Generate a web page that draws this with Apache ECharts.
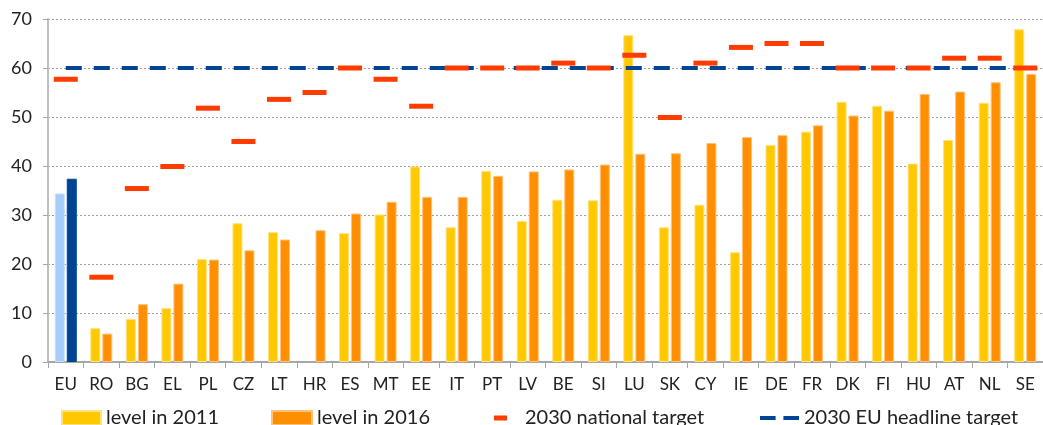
<!DOCTYPE html>
<html>
<head>
<meta charset="utf-8">
<script src="https://cdn.jsdelivr.net/npm/echarts@6/dist/echarts.min.js"></script>
<style>
  html, body { margin: 0; padding: 0; background: #fff; }
  #chart { width: 1043px; height: 425px; }
</style>
</head>
<body>
<div id="chart"></div>
<script>
  // countries, sorted by 2016 level (EU first)
  var categories = ['EU', 'RO', 'BG', 'EL', 'PL', 'CZ', 'LT', 'HR', 'ES', 'MT', 'EE', 'IT', 'PT', 'LV',
    'BE', 'SI', 'LU', 'SK', 'CY', 'IE', 'DE', 'FR', 'DK', 'FI', 'HU', 'AT', 'NL', 'SE']
  var level2011 = [34.4, 6.9, 8.8, 11.0, 21.0, 28.3, 26.5, null, 26.3, 30.1, 39.9, 27.5, 39.0, 28.8,
    33.1, 33.0, 66.7, 27.5, 32.1, 22.4, 44.3, 47.0, 53.1, 52.3, 40.5, 45.3, 52.9, 67.9]
  var level2016 = [37.4, 5.8, 11.8, 16.0, 20.9, 22.8, 25.0, 26.9, 30.3, 32.7, 33.7, 33.7, 38.0, 38.9,
    39.3, 40.3, 42.5, 42.6, 44.7, 45.9, 46.3, 48.3, 50.3, 51.3, 54.7, 55.2, 57.1, 58.8]
  var nationalTarget = [57.7, 17.3, 35.4, 39.9, 51.8, 45.0, 53.6, 55.0, 60, 57.7, 52.2, 60, 60, 60,
    61, 60, 62.6, 49.9, 61, 64.2, 65, 65, 60, 60, 60, 62, 62, 60]
  var euHeadline = 60
  var yTicks = [0, 10, 20, 30, 40, 50, 60, 70]

  var font = 'Lato'

  var data2011 = level2011.map(function (v, i) {
    if (v === null) return '-'
    if (i === 0) return { value: v, itemStyle: { color: '#a6cdfa', borderColor: '#c6e0fc' } }
    return v
  })
  var data2016 = level2016.map(function (v, i) {
    if (i === 0) return { value: v, itemStyle: { color: '#004494', borderColor: '#004494' } }
    return v
  })
  var headlineData = categories.map(function () { return euHeadline })

  var chart = echarts.init(document.getElementById('chart'))

  function legendAt (left, name, icon, w, h, gap) {
    return {
      left: left,
      top: 408,
      padding: 0,
      data: [{ name: name, icon: icon }],
      itemWidth: w,
      itemHeight: h,
      itemGap: 0,
      textStyle: { fontFamily: font, fontSize: 20, color: '#222', padding: [0, 0, 0, gap] },
      selectedMode: false
    }
  }

  chart.setOption({
    animation: false,
    backgroundColor: '#fff',
    grid: { left: 48, top: 19, right: -13, bottom: 63 },
    legend: [
      legendAt(61, 'level in 2011', 'rect', 39, 14, 0),
      legendAt(271, 'level in 2016', 'rect', 40, 14, 0),
      legendAt(494, '2030 national target', 'rect', 13, 5, 13),
      legendAt(760, '2030 EU headline target', 'path://M0,0H16V4H0Z M24,0H40V4H24Z', 39, 4, 0)
    ],
    xAxis: {
      type: 'category',
      data: categories,
      boundaryGap: true,
      axisLine: { lineStyle: { color: '#a6a6a6', width: 2 } },
      axisTick: { show: true, length: 6, lineStyle: { color: '#a6a6a6', width: 1 } },
      axisLabel: { fontFamily: font, fontSize: 17, color: '#222', margin: 14 }
    },
    yAxis: {
      type: 'value',
      min: yTicks[0],
      max: yTicks[yTicks.length - 1],
      interval: 10,
      axisLine: { show: true, lineStyle: { color: '#bfbfbf', width: 2 } },
      axisTick: { show: true, length: 5, lineStyle: { color: '#a6a6a6' } },
      axisLabel: { fontFamily: font, fontSize: 18, color: '#222', margin: 16 },
      splitLine: { lineStyle: { color: '#a0a0a0', type: [2, 2], width: 1 } }
    },
    series: [
      {
        name: 'level in 2011',
        type: 'bar',
        data: data2011,
        barWidth: 10,
        barGap: '20%',
        itemStyle: { color: '#ffc800', borderColor: '#ffe27a', borderWidth: 1 },
        z: 2
      },
      {
        name: 'level in 2016',
        type: 'bar',
        data: data2016,
        barWidth: 10,
        itemStyle: { color: '#ff8f00', borderColor: '#ffc27a', borderWidth: 1 },
        z: 2
      },
      {
        name: '2030 EU headline target',
        type: 'line',
        data: headlineData,
        symbol: 'none',
        itemStyle: { color: '#004494' },
        lineStyle: { color: '#004494', width: 4, type: [16, 12] },
        z: 3
      },
      {
        name: '2030 national target',
        type: 'scatter',
        data: nationalTarget,
        symbol: 'rect',
        symbolSize: [24, 5],
        itemStyle: { color: '#ff3c00', opacity: 1 },
        z: 4
      }
    ]
  })
</script>
</body>
</html>
